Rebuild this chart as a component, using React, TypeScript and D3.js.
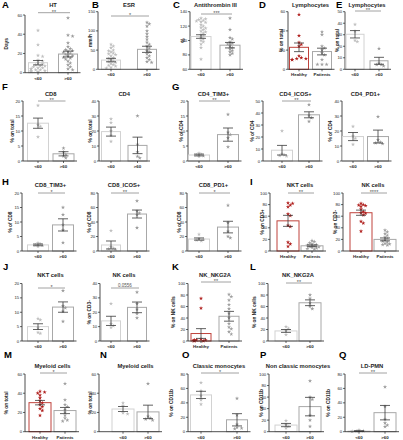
import React from 'react';
import * as d3 from 'd3';

// ---------- groups ----------
const ageGroups = ['<60', '>60'];
const cohortGroups = ['Healthy', 'Patients'];

// ---------- data (mean, SEM, individual points) ----------
const htMean = [10.4, 19.4]; const htSem = [2.3, 3.0];
const htUnder = [44, 29, 18, 17, 13, 12, 10, 9, 8, 7, 7, 6, 5, 5, 4, 4, 3, 3, 2, 2, 1, 1];
const htOver = [57, 39, 38, 31, 27, 25, 24, 23, 22, 21, 20, 19, 18, 17, 16, 15, 14, 12, 10, 8, 6, 4, 3];

const esrMean = [24, 52]; const esrSem = [4.5, 8];
const esrUnder = [65, 60, 56, 50, 48, 45, 42, 40, 38, 35, 30, 28, 25, 22, 20, 18, 15, 12, 10, 8, 5, 3];
const esrOver = [122, 118, 112, 100, 92, 85, 78, 70, 65, 60, 55, 48, 45, 40, 35, 30, 25, 20, 18];

const at3Mean = [105.5, 93.5]; const at3Sem = [2.5, 3.8];
const at3Under = [131, 130, 129, 128, 127, 126, 125, 122, 120, 118, 117, 115, 113, 112, 110, 108, 106, 104, 102, 100, 98, 95, 90, 74];
const at3Over = [131, 115, 104, 102, 98, 96, 95, 92, 90, 88, 86, 84, 82, 80];

const lymphHpMean = [22.9, 18.5]; const lymphHpSem = [4.5, 3.5];
const lymphHealthy = [57, 35, 28, 26, 24, 14, 12, 11, 11, 10, 10];
const lymphPatients = [39, 36, 24, 22, 20, 17, 15, 10, 5, 5, 5];

const lymphAgeMean = [30.4, 7.4]; const lymphAgeSem = [3.2, 3];
const lymphUnder = [39, 33, 25, 24];
const lymphOver = [18, 5, 4, 4, 3];

const cd8Mean = [12.6, 2.4]; const cd8Sem = [1.7, 0.7];
const cd8Under = [18.5, 12, 11.5, 8];
const cd8Over = [4.3, 3.0, 2.2, 1.6, 1.0];

const cd4Mean = [19.6, 10.4]; const cd4Sem = [3.0, 5.5];
const cd4Under = [28, 25.5, 20, 17, 13];
const cd4Over = [30, 11, 6, 3, 2];

const cd4TimMean = [2.0, 8.8]; const cd4TimSem = [0.3, 2.2];
const cd4TimUnder = [2.6, 2.2, 2.0, 1.7, 1.5];
const cd4TimOver = [15.5, 9.5, 8.8, 7.7, 4.7];

const cd4IcosMean = [9.0, 38.5]; const cd4IcosSem = [4, 2.5];
const cd4IcosUnder = [25, 6, 5, 4.5, 4];
const cd4IcosOver = [47, 38, 36, 33];

const cd4Pd1Mean = [16.3, 16.3]; const cd4Pd1Sem = [2.7, 4.3];
const cd4Pd1Under = [23, 16.5, 15, 11];
const cd4Pd1Over = [29.5, 14, 12.5, 12, 11.5];

const cd8TimMean = [2.1, 9.0]; const cd8TimSem = [0.3, 2.1];
const cd8TimUnder = [2.8, 2.4, 2.1, 1.9, 1.6];
const cd8TimOver = [15, 12.5, 9, 7.2, 2.9];

const cd8IcosMean = [8.3, 51]; const cd8IcosSem = [5.5, 5.5];
const cd8IcosUnder = [28, 6, 4, 3, 2];
const cd8IcosOver = [69, 55, 52, 50, 32];

const cd8Pd1Mean = [16.5, 33]; const cd8Pd1Sem = [1.5, 8];
const cd8Pd1Under = [23, 17, 16, 15, 14];
const cd8Pd1Over = [63, 39, 27, 20, 18];

const nktHpMean = [52, 9]; const nktHpSem = [9.5, 1.5];
const nktHealthy = [83, 82, 79, 76, 64, 61, 44, 42, 15, 12, 8];
const nktPatients = [18, 16, 14, 12, 11, 10, 9, 8, 7, 6, 5, 4, 3];

const nkHpMean = [66, 20]; const nkHpSem = [4.5, 2.5];
const nkHealthy = [82, 80, 79, 78, 77, 72, 68, 66, 65, 62, 51, 48, 34];
const nkPatients = [36, 33, 30, 27, 24, 21, 19, 17, 15, 13, 12, 11, 10];

const nktAgeMean = [5.0, 11.8]; const nktAgeSem = [1.0, 1.8];
const nktUnder = [7.8, 7.3, 4.5, 3, 2.6];
const nktOver = [17.5, 12.2, 11.5, 10.3, 6.8];

const nkAgeMean = [14, 23.4]; const nkAgeSem = [3.2, 3.7];
const nkUnder = [26, 12, 10.5, 9.5];
const nkOver = [34, 26, 22, 19, 16];

const nkg2aHpMean = [13, 43]; const nkg2aHpSem = [8.5, 8.5];
const nkg2aHealthy = [74, 57, 3, 2, 2, 1, 1, 1, 0.5, 0.5, 0.3, 0.2];
const nkg2aPatients = [81, 77, 71, 63, 56, 48, 40, 30, 24, 21, 16, 12];

const nkg2aAgeMean = [17.5, 66.5]; const nkg2aAgeSem = [2.5, 5];
const nkg2aUnder = [25, 22, 18, 11];
const nkg2aOver = [80, 74, 66, 60, 56];

const myeHpMean = [30.2, 22]; const myeHpSem = [2.3, 3.2];
const myeHealthy = [42, 41, 40, 38, 35, 32, 30, 28, 26, 24, 22, 17];
const myePatients = [50, 33, 28, 26, 23, 20, 17, 14, 12, 11];

const myeAgeMean = [23.6, 20.6]; const myeAgeSem = [2.6, 7];
const myeUnder = [30, 27, 19.5, 18.5];
const myeOver = [50, 16, 14, 13, 12];

const cmMean = [51, 16.5]; const cmSem = [5, 8.5];
const cmUnder = [68, 57, 50, 44, 38];
const cmOver = [46, 23, 10, 6, 5, 4];

const ncmMean = [11.5, 43.5]; const ncmSem = [2.8, 16];
const ncmUnder = [19, 12, 9, 6];
const ncmOver = [88, 60, 56, 28, 20, 9];

const pmnMean = [0.9, 26.4]; const pmnSem = [0.5, 10];
const pmnUnder = [2.5, 1.2, 0.6, 0.3, 0.2];
const pmnOver = [62, 35, 17, 12, 9, 7];

// ---------- layout ----------
type P = {
  letter?: string; lx?: number; ly?: number;
  title: string; ty: number; ylabel?: string; ylx: number;
  ax: number; c: number[]; bw: number; top: number; bottom: number;
  min: number; max: number; step: number;
  groups: string[]; healthy: boolean;
  mean: number[]; sem: number[]; pts: number[][];
  sig?: string; sigY?: number;
};

const R1 = { t: 11.7, b: 69.3, ty: 7 };
const R2 = { t: 101, b: 161, ty: 96 };
const R3 = { t: 193, b: 251, ty: 187 };
const R4 = { t: 283.5, b: 341, ty: 277 };
const R5 = { t: 374, b: 431.7, ty: 368 };

const panels: P[] = [
  { letter: 'A', lx: 2, ly: 8, title: 'HT', ty: R1.ty, ylabel: 'Days', ylx: 6, ax: 25, c: [38, 68], bw: 19, top: 15, bottom: 72.7, min: 0, max: 60, step: 20, groups: ageGroups, healthy: false, mean: htMean, sem: htSem, pts: [htUnder, htOver], sig: '**', sigY: 12.7 },
  { letter: 'B', lx: 92, ly: 8, title: 'ESR', ty: R1.ty, ylabel: 'mm/h', ylx: 90, ax: 98, c: [111, 147], bw: 19, top: R1.t, bottom: R1.b, min: 0, max: 150, step: 50, groups: ageGroups, healthy: false, mean: esrMean, sem: esrSem, pts: [esrUnder, esrOver], sig: '*', sigY: 16 },
  { letter: 'C', lx: 173, ly: 8, title: 'Antithrombin III', ty: R1.ty, ylabel: '%', ylx: 183, ax: 190, c: [201, 230], bw: 20, top: R1.t, bottom: R1.b, min: 60, max: 140, step: 20, groups: ageGroups, healthy: false, mean: at3Mean, sem: at3Sem, pts: [at3Under, at3Over], sig: '***', sigY: 14 },
  { letter: 'D', lx: 259, ly: 8, title: 'Lymphocytes', ty: R1.ty, ylabel: '% on total', ylx: 281, ax: 288, c: [299, 322], bw: 19, top: R1.t, bottom: R1.b, min: 0, max: 60, step: 20, groups: cohortGroups, healthy: true, mean: lymphHpMean, sem: lymphHpSem, pts: [lymphHealthy, lymphPatients] },
  { letter: 'E', lx: 336, ly: 8, title: 'Lymphocytes', ty: R1.ty, ylabel: '% on total', ylx: 337, ax: 345, c: [355, 379], bw: 18, top: R1.t, bottom: R1.b, min: 0, max: 50, step: 10, groups: ageGroups, healthy: false, mean: lymphAgeMean, sem: lymphAgeSem, pts: [lymphUnder, lymphOver], sig: '**', sigY: 11 },

  { letter: 'F', lx: 2, ly: 90, title: 'CD8', ty: R2.ty, ylabel: '% on total', ylx: 12, ax: 23, c: [38, 63.5], bw: 21, top: R2.t, bottom: R2.b, min: 0, max: 20, step: 5, groups: ageGroups, healthy: false, mean: cd8Mean, sem: cd8Sem, pts: [cd8Under, cd8Over], sig: '**', sigY: 101 },
  { title: 'CD4', ty: R2.ty, ylabel: '% on total', ylx: 90, ax: 99, c: [111, 137.5], bw: 19, top: R2.t, bottom: R2.b, min: 0, max: 40, step: 10, groups: ageGroups, healthy: false, mean: cd4Mean, sem: cd4Sem, pts: [cd4Under, cd4Over] },
  { letter: 'G', lx: 172, ly: 90, title: 'CD4_TIM3+', ty: R2.ty, ylabel: '% of CD4', ylx: 181, ax: 188, c: [199, 228], bw: 21, top: R2.t, bottom: R2.b, min: 0, max: 20, step: 5, groups: ageGroups, healthy: false, mean: cd4TimMean, sem: cd4TimSem, pts: [cd4TimUnder, cd4TimOver], sig: '**', sigY: 101 },
  { title: 'CD4_ICOS+', ty: R2.ty, ylabel: '% of CD4', ylx: 252, ax: 263, c: [282, 309], bw: 21, top: R2.t, bottom: R2.b, min: 0, max: 50, step: 10, groups: ageGroups, healthy: false, mean: cd4IcosMean, sem: cd4IcosSem, pts: [cd4IcosUnder, cd4IcosOver], sig: '**', sigY: 101 },
  { title: 'CD4_PD1+', ty: R2.ty, ylabel: '% of CD4', ylx: 330, ax: 342, c: [353, 378], bw: 21, top: R2.t, bottom: R2.b, min: 0, max: 40, step: 10, groups: ageGroups, healthy: false, mean: cd4Pd1Mean, sem: cd4Pd1Sem, pts: [cd4Pd1Under, cd4Pd1Over] },

  { letter: 'H', lx: 2, ly: 185, title: 'CD8_TIM3+', ty: R3.ty, ylabel: '% of CD8', ylx: 10, ax: 22, c: [38, 63], bw: 21, top: R3.t, bottom: R3.b, min: 0, max: 20, step: 5, groups: ageGroups, healthy: false, mean: cd8TimMean, sem: cd8TimSem, pts: [cd8TimUnder, cd8TimOver], sig: '*', sigY: 193 },
  { title: 'CD8_ICOS+', ty: R3.ty, ylabel: '% of CD8', ylx: 89, ax: 98, c: [111, 137], bw: 19, top: R3.t, bottom: R3.b, min: 0, max: 80, step: 20, groups: ageGroups, healthy: false, mean: cd8IcosMean, sem: cd8IcosSem, pts: [cd8IcosUnder, cd8IcosOver], sig: '**', sigY: 193 },
  { title: 'CD8_PD1+', ty: R3.ty, ylabel: '% of CD8', ylx: 179, ax: 187, c: [199, 228], bw: 21, top: R3.t, bottom: R3.b, min: 0, max: 80, step: 20, groups: ageGroups, healthy: false, mean: cd8Pd1Mean, sem: cd8Pd1Sem, pts: [cd8Pd1Under, cd8Pd1Over], sig: '*', sigY: 193 },
  { letter: 'I', lx: 250, ly: 185, title: 'NKT cells', ty: R3.ty, ylabel: '% on CD3+', ylx: 262, ax: 270, c: [288, 312], bw: 22, top: R3.t, bottom: R3.b, min: 0, max: 100, step: 20, groups: cohortGroups, healthy: true, mean: nktHpMean, sem: nktHpSem, pts: [nktHealthy, nktPatients], sig: '**', sigY: 193 },
  { title: 'NK cells', ty: R3.ty, ylabel: '% on CD3-', ylx: 335, ax: 343, c: [361, 385], bw: 22, top: R3.t, bottom: R3.b, min: 0, max: 100, step: 20, groups: cohortGroups, healthy: true, mean: nkHpMean, sem: nkHpSem, pts: [nkHealthy, nkPatients], sig: '****', sigY: 193 },

  { letter: 'J', lx: 3, ly: 270, title: 'NKT cells', ty: R4.ty, ylx: 0, ax: 22, c: [38, 63], bw: 21, top: R4.t, bottom: R4.b, min: 0, max: 20, step: 5, groups: ageGroups, healthy: false, mean: nktAgeMean, sem: nktAgeSem, pts: [nktUnder, nktOver], sig: '*', sigY: 288 },
  { title: 'NK cells', ty: R4.ty, ylabel: '% on CD3-', ylx: 89, ax: 100, c: [111, 137], bw: 19, top: R4.t, bottom: R4.b, min: 0, max: 40, step: 10, groups: ageGroups, healthy: false, mean: nkAgeMean, sem: nkAgeSem, pts: [nkUnder, nkOver], sig: '0.0556', sigY: 288 },
  { letter: 'K', lx: 172, ly: 270, title: 'NK_NKG2A', ty: R4.ty, ylabel: '% on NK cells', ylx: 173, ax: 188, c: [201, 229], bw: 20, top: R4.t, bottom: R4.b, min: 0, max: 100, step: 20, groups: cohortGroups, healthy: true, mean: nkg2aHpMean, sem: nkg2aHpSem, pts: [nkg2aHealthy, nkg2aPatients], sig: '**', sigY: 282 },
  { letter: 'L', lx: 250, ly: 270, title: 'NK_NKG2A', ty: R4.ty, ylabel: '% on NK cells', ylx: 254, ax: 268, c: [286, 310], bw: 22, top: R4.t, bottom: R4.b, min: 0, max: 100, step: 20, groups: ageGroups, healthy: false, mean: nkg2aAgeMean, sem: nkg2aAgeSem, pts: [nkg2aUnder, nkg2aOver], sig: '**', sigY: 283 },

  { letter: 'M', lx: 4, ly: 358, title: 'Myeloid cells', ty: R5.ty, ylabel: '% on total', ylx: 6, ax: 25, c: [40, 65], bw: 22, top: R5.t, bottom: R5.b, min: 0, max: 60, step: 20, groups: cohortGroups, healthy: true, mean: myeHpMean, sem: myeHpSem, pts: [myeHealthy, myePatients], sig: '*', sigY: 373 },
  { letter: 'N', lx: 100, ly: 358, title: 'Myeloid cells', ty: R5.ty, ylabel: '% on total', ylx: 90, ax: 99, c: [123, 148], bw: 22, top: R5.t, bottom: R5.b, min: 0, max: 60, step: 20, groups: ageGroups, healthy: false, mean: myeAgeMean, sem: myeAgeSem, pts: [myeUnder, myeOver] },
  { letter: 'O', lx: 182, ly: 358, title: 'Classic monocytes', ty: R5.ty, ylabel: '% on CD11b', ylx: 171, ax: 188, c: [201, 237], bw: 21, top: R5.t, bottom: R5.b, min: 0, max: 80, step: 20, groups: ageGroups, healthy: false, mean: cmMean, sem: cmSem, pts: [cmUnder, cmOver], sig: '*', sigY: 373 },
  { letter: 'P', lx: 260, ly: 358, title: 'Non classic monocytes', ty: R5.ty, ylabel: '% on CD11b', ylx: 261, ax: 269, c: [286, 310], bw: 22, top: R5.t, bottom: R5.b, min: 0, max: 100, step: 20, groups: ageGroups, healthy: false, mean: ncmMean, sem: ncmSem, pts: [ncmUnder, ncmOver] },
  { letter: 'Q', lx: 339, ly: 358, title: 'LD-PMN', ty: R5.ty, ylabel: '% on CD11b', ylx: 328, ax: 345, c: [359, 385], bw: 22, top: R5.t, bottom: R5.b, min: 0, max: 80, step: 20, groups: ageGroups, healthy: false, mean: pmnMean, sem: pmnSem, pts: [pmnUnder, pmnOver], sig: '**', sigY: 373 },
];

const FONT = "'Liberation Sans', Arial, Helvetica, sans-serif";
const TXT = '#1e1e1e';

const styles = {
  young: { bar: '#d2d2d2', pt: '#c0c0c0' },
  old: { bar: '#a8a8a8', pt: '#9c9c9c' },
  healthy: { bar: '#c0433c', pt: '#b0201e' },
  patients: { bar: '#a8a8a8', pt: '#a0a0a0' },
};

const star = d3.symbol().type(d3.symbolStar).size(5.5)() as string;

function swarm(values: number[], y: (v: number) => number, cx: number, maxOff: number) {
  const order = values.map((v, i) => ({ i, py: y(v) })).sort((a, b) => a.py - b.py);
  const placed: { x: number; y: number }[] = [];
  const out: { x: number; y: number }[] = new Array(values.length);
  const r = 2.5;
  for (const o of order) {
    let dx = 0;
    for (let k = 0; k < 30; k++) {
      const cand = k === 0 ? 0 : (k % 2 === 1 ? 1 : -1) * Math.ceil(k / 2) * 2.3;
      if (Math.abs(cand) > maxOff) break;
      dx = cand;
      const ok = placed.every((q) => Math.hypot(q.x - cand, q.y - o.py) >= r);
      if (ok) break;
    }
    placed.push({ x: dx, y: o.py });
    out[o.i] = { x: cx + dx, y: o.py };
  }
  return out;
}

function PanelView({ p }: { p: P }) {
  const y = d3.scaleLinear().domain([p.min, p.max]).range([p.bottom, p.top]);
  const x = d3.scaleOrdinal<string, number>().domain(p.groups).range(p.c);
  const ticks = d3.range(p.min, p.max + 1e-6, p.step);
  const xEnd = p.c[1] + p.bw / 2 + 3;
  const mid = (p.c[0] + p.c[1]) / 2;
  const st = p.healthy ? [styles.healthy, styles.patients] : [styles.young, styles.old];
  return (
    <g fontFamily={FONT}>
      {p.letter && (
        <text x={p.lx} y={p.ly} fontSize={9.5} fontWeight="bold" fill="#000">{p.letter}</text>
      )}
      <text x={mid} y={p.ty} textAnchor="middle" fontSize={5.8} fontWeight="bold" fill={TXT}>{p.title}</text>
      {p.ylabel && (
        <text transform={`translate(${p.ylx},${(p.top + p.bottom) / 2}) rotate(-90)`} textAnchor="middle" dy="0.35em" fontSize={4.8} fontWeight="bold" fill={TXT}>{p.ylabel}</text>
      )}
      <line x1={p.ax} x2={p.ax} y1={y(p.max)} y2={y(p.min)} stroke="#222" strokeWidth={0.8} />
      {ticks.map((t) => (
        <g key={t}>
          <line x1={p.ax - 2} x2={p.ax} y1={y(t)} y2={y(t)} stroke="#222" strokeWidth={0.7} />
          <text x={p.ax - 2.8} y={y(t)} dy="0.35em" textAnchor="end" fontSize={4.3} fill={TXT}>{t}</text>
        </g>
      ))}
      {p.groups.map((g, i) => {
        const cx = x(g);
        const yv = y(p.mean[i]);
        return (
          <rect key={g} x={cx - p.bw / 2} y={yv} width={p.bw} height={y(p.min) - yv} fill="#fff" stroke={st[i].bar} strokeWidth={1} />
        );
      })}
      {p.groups.map((g, i) => {
        const pos = swarm(p.pts[i], y, x(g), p.bw / 2 - 2.5);
        return pos.map((q, j) => (
          <path key={g + j} d={star} transform={`translate(${q.x},${q.y})`} fill={st[i].pt} />
        ));
      })}
      {p.groups.map((g, i) => {
        const cx = x(g);
        const hi = y(p.mean[i] + p.sem[i]);
        const lo = y(Math.max(p.min, p.mean[i] - p.sem[i]));
        return (
          <g key={'e' + g} stroke="#3a3a3a" strokeWidth={0.8}>
            <line x1={cx} x2={cx} y1={hi} y2={lo} />
            <line x1={cx - 5} x2={cx + 5} y1={hi} y2={hi} />
            <line x1={cx - 5} x2={cx + 5} y1={lo} y2={lo} />
          </g>
        );
      })}
      <line x1={p.ax} x2={xEnd} y1={y(p.min)} y2={y(p.min)} stroke="#222" strokeWidth={0.8} />
      {p.groups.map((g) => (
        <g key={'x' + g}>
          <line x1={x(g)} x2={x(g)} y1={y(p.min)} y2={y(p.min) + 2} stroke="#222" strokeWidth={0.7} />
          <text x={x(g)} y={y(p.min) + 7} textAnchor="middle" fontSize={4.4} fontWeight="bold" fill={TXT}>{g}</text>
        </g>
      ))}
      {p.sig && p.sigY !== undefined && (
        <g>
          <line x1={p.c[0]} x2={p.c[1] + 2} y1={p.sigY} y2={p.sigY} stroke="#8a8a8a" strokeWidth={0.8} />
          {p.sig.startsWith('0') ? (
            <text x={mid + 1} y={p.sigY - 1} textAnchor="middle" fontSize={4.5} fill="#555">{p.sig}</text>
          ) : (
            <text x={mid + 1} y={p.sigY + 0.8} textAnchor="middle" fontSize={5.5} fill="#555">{p.sig}</text>
          )}
        </g>
      )}
    </g>
  );
}

export default function App() {
  return (
    <svg width={403} height={440} style={{ position: 'absolute', left: 0, top: 0, background: '#fff' }}>
      <rect width={403} height={440} fill="#fff" />
      {panels.map((p, i) => (
        <PanelView key={i} p={p} />
      ))}
    </svg>
  );
}
